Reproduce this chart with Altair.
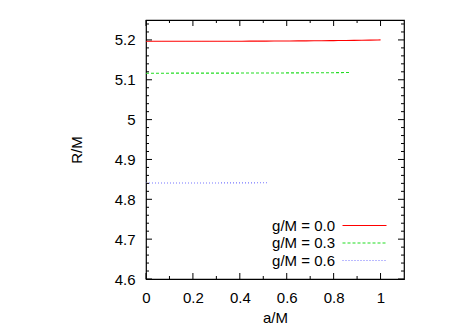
import altair as alt
import pandas as pd

# series data
names = ["g/M = 0.0", "g/M = 0.3", "g/M = 0.6"]
a_00 = [0.0, 0.2, 0.4, 0.6, 0.8, 1.0]
r_00 = [5.1965, 5.1966, 5.1968, 5.1973, 5.1982, 5.2000]
a_03 = [0.0, 0.2, 0.4, 0.6, 0.8, 0.87]
r_03 = [5.1165, 5.1166, 5.1168, 5.1172, 5.1178, 5.1183]
a_06 = [0.0, 0.2, 0.4, 0.52]
r_06 = [4.8410, 4.8410, 4.8412, 4.8415]

colors = ["#ff0000", "#22dd22", "#7777ff"]
dashes = [[8, 0], [3, 2], [1, 2]]

x_major = [0, 0.2, 0.4, 0.6, 0.8, 1.0]
x_minor = [0.1, 0.3, 0.5, 0.7, 0.9]
y_major = [4.6, 4.7, 4.8, 4.9, 5.0, 5.1, 5.2]
y_minor = [round(4.6 + 0.02 * i, 2) for i in range(33) if i % 5 != 0]

rows = []
for n, aa, rr in zip(names, [a_00, a_03, a_06], [r_00, r_03, r_06]):
    for a, r in zip(aa, rr):
        rows.append({"series": n, "a": a, "R": r})
df = pd.DataFrame(rows)

W, H = 258, 259
FONT = "Liberation Sans"

xs = alt.Scale(domain=[0, 1.1], nice=False)
ys = alt.Scale(domain=[4.6, 5.25], nice=False)

x_axis = alt.Axis(values=x_major, format="~g", ticks=False, domain=False, grid=False,
                  labelFlush=False, labelFontSize=15, labelPadding=11, labelFont=FONT,
                  titleFont=FONT, titleFontSize=15, titleFontWeight="normal",
                  titleY=38, titleBaseline="middle", labelColor="black", titleColor="black")
y_axis = alt.Axis(values=y_major, format="~g", ticks=False, domain=False, grid=False,
                  labelFlush=False, labelFontSize=15, labelPadding=11, labelFont=FONT,
                  titleFont=FONT, titleFontSize=15, titleFontWeight="normal",
                  titleX=-70, titleY=H / 2, titleAlign="center", titleBaseline="middle",
                  labelColor="black", titleColor="black")

legend = alt.Legend(title=None, orient="none", legendX=211, legendY=198,
                    symbolType="M-4,0H4", symbolSize=121,
                    symbolStrokeWidth=1.2, labelAlign="right",
                    labelOffset={"expr": "-37"}, labelFontSize=15, labelFont=FONT,
                    labelColor="black", rowPadding=1.5)

lines = alt.Chart(df).mark_line(strokeWidth=1.1, clip=True).encode(
    x=alt.X("a:Q", scale=xs, title="a/M", axis=x_axis),
    y=alt.Y("R:Q", scale=ys, title="R/M", axis=y_axis),
    color=alt.Color("series:N", scale=alt.Scale(domain=names, range=colors), legend=legend),
    strokeDash=alt.StrokeDash("series:N", scale=alt.Scale(domain=names, range=dashes), legend=None),
)

def xticks(vals, length):
    d = pd.DataFrame({"a": vals})
    b = alt.Chart(d).mark_rule(color="black", strokeWidth=1).encode(
        x=alt.X("a:Q", scale=xs, title="a/M", axis=x_axis), y=alt.value(H), y2=alt.value(H - length))
    t = alt.Chart(d).mark_rule(color="black", strokeWidth=1).encode(
        x=alt.X("a:Q", scale=xs, title="a/M", axis=x_axis), y=alt.value(0), y2=alt.value(length))
    return [b, t]

def yticks(vals, length):
    d = pd.DataFrame({"R": vals})
    l = alt.Chart(d).mark_rule(color="black", strokeWidth=1).encode(
        y=alt.Y("R:Q", scale=ys, title="R/M", axis=y_axis), x=alt.value(0), x2=alt.value(length))
    r = alt.Chart(d).mark_rule(color="black", strokeWidth=1).encode(
        y=alt.Y("R:Q", scale=ys, title="R/M", axis=y_axis), x=alt.value(W), x2=alt.value(W - length))
    return [l, r]

layers = [lines] + xticks(x_major, 6) + xticks(x_minor, 3) + yticks(y_major, 6) + yticks(y_minor, 3)

chart = alt.layer(*layers).properties(
    width=W, height=H,
    background="white",
    autosize=alt.AutoSizeParams(type="none"),
    padding={"left": 138, "top": 12, "right": 62, "bottom": 47},
).configure_view(stroke="black", strokeWidth=1.2)

chart.save("out.html", embed_options={"renderer": "svg", "actions": False})
